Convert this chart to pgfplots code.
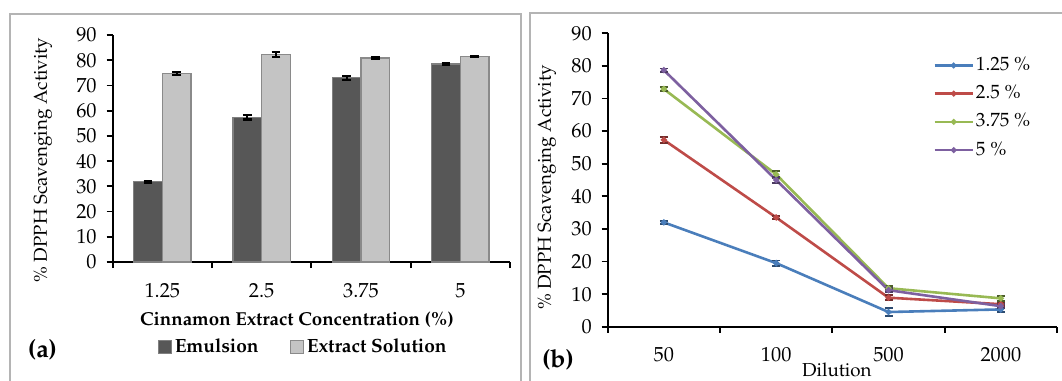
\documentclass[border=0pt]{standalone}
\usepackage[T1]{fontenc}
\usepackage{mathpazo}
\usepackage{pgfplots}
\pgfplotsset{compat=1.18}
\definecolor{emul}{HTML}{575757}
\definecolor{emuledge}{HTML}{808080}
\definecolor{extr}{HTML}{C4C4C4}
\definecolor{extredge}{HTML}{8A8A8A}
\definecolor{cblue}{HTML}{4A7EBB}
\definecolor{cred}{HTML}{BE4B48}
\definecolor{cgreen}{HTML}{98B954}
\definecolor{cpurple}{HTML}{7D60A0}
\definecolor{framec}{HTML}{B4B4B4}
\begin{document}
\begin{tikzpicture}
\useasboundingbox (0,0) rectangle (531bp,190.5bp);
\draw[framec, line width=0.7bp] (5bp,0) -- (5bp,183.5bp) -- (260.5bp,183.5bp) -- (260.5bp,0);
\draw[framec, line width=0.7bp] (265bp,0) -- (265bp,184bp) -- (531bp,184bp);
\pgfplotsset{
  every tick label/.append style={font=\fontsize{10.2}{11}\selectfont},
  every axis label/.append style={font=\fontsize{9.4}{10}\selectfont},
}
% ---------- (a) ----------
\begin{axis}[
  at={(56.35bp,59.5bp)}, anchor=south west,
  scale only axis, width=198.65bp, height=113.5bp,
  xmin=-0.5, xmax=3.5, ymin=0, ymax=90,
  axis lines*=left,
  axis line style={black, line width=0.9bp},
  ytick={0,10,...,90},
  xtick={0,1,2,3}, xticklabels={1.25,2.5,3.75,5},
  minor xtick={-0.5,0.5,1.5,2.5,3.5},
  major x tick style={draw=none},
  tick align=outside,
  major tick length=3bp, minor tick length=3bp,
  tick style={black, line width=0.9bp},
  xticklabel style={yshift=-4bp},
  yticklabel style={xshift=-1.5bp},
  ybar=0pt, bar width=14.35bp,
  xlabel={\bfseries Cinnamon Extract Concentration (\%)},
  ylabel={\% DPPH Scavenging Activity},
  xlabel style={at={(axis description cs:0.464,-0.2555)}, anchor=center},
  ylabel style={at={(axis description cs:-0.1754,0.449)}, anchor=center},
  legend columns=2,
  legend cell align=left,
  legend style={at={(axis description cs:0.849,-0.374)}, anchor=east, draw=none, fill=none,
    font=\fontsize{9.6}{10}\selectfont\bfseries,
    nodes={inner xsep=1.5bp},
    /tikz/column 2/.style={column sep=14bp},
    inner sep=0pt},
  legend image code/.code={\draw[#1] (0bp,-3.2bp) rectangle (6.5bp,3.2bp);},
  error bars/error bar style={black, line width=1.1bp},
  error bars/error mark options={rotate=90, black, mark size=2.2bp, line width=1.1bp},
  clip=false,
]
\addplot[fill=emul, draw=emuledge, line width=0.6bp,
  error bars/.cd, y dir=both, y explicit]
  coordinates {(0,31.8) +- (0,0.3) (1,57.4) +- (0,0.9) (2,73.0) +- (0,0.9) (3,78.5) +- (0,0.5)};
\addplot[fill=extr, draw=extredge, line width=0.6bp,
  error bars/.cd, y dir=both, y explicit]
  coordinates {(0,74.7) +- (0,0.5) (1,82.3) +- (0,0.9) (2,80.9) +- (0,0.5) (3,81.4) +- (0,0.2)};
\legend{Emulsion,Extract Solution}
\node[font=\fontsize{12.5}{13}\selectfont\bfseries, anchor=center] at (axis description cs:-0.1767,-0.3877) {(a)};
\end{axis}
% ---------- (b) ----------
\begin{axis}[
  at={(303.85bp,27.15bp)}, anchor=south west,
  scale only axis, width=224.65bp, height=146.7bp,
  xmin=-0.5, xmax=3.5, ymin=0, ymax=90,
  axis lines*=left,
  axis line style={black, line width=0.9bp},
  ytick={0,10,...,90},
  xtick={0,1,2,3}, xticklabels={50,100,500,2000},
  minor xtick={-0.5,0.5,1.5,2.5,3.5},
  major x tick style={draw=none},
  tick align=outside,
  major tick length=3bp, minor tick length=3bp,
  tick style={black, line width=0.9bp},
  xticklabel style={yshift=-4bp},
  yticklabel style={xshift=-1.5bp},
  xlabel={Dilution},
  ylabel={\% DPPH Scavenging Activity},
  xlabel style={at={(axis description cs:0.510,-0.1476)}, anchor=center},
  ylabel style={at={(axis description cs:-0.135,0.474)}, anchor=center},
  legend cell align=left,
  legend style={at={(axis description cs:0.724,0.919)}, anchor=north west, draw=none, fill=none,
    font=\fontsize{9.6}{10}\selectfont, inner sep=0pt,
    nodes={inner xsep=1bp, inner ysep=0pt, text height=6.5bp, text depth=1.5bp},
    row sep=6.1bp},
  legend image code/.code={\draw[#1, mark=none] (0bp,0bp) -- (19bp,0bp); \fill[#1] (9.5bp,0bp) circle (0.7bp);},
  clip=false,
]
\addplot[cblue, line width=1.3bp, mark=*, mark size=0.8bp,
  error bars/.cd, y dir=both, y explicit, error bar style={cblue!60!black, line width=0.9bp}, error mark options={rotate=90, mark size=2bp, line width=0.9bp, cblue!60!black}]
  coordinates {(0,32.0) +- (0,0.4) (1,19.5) +- (0,0.8) (2,4.5) +- (0,1.2) (3,5.3) +- (0,0.8)};
\addplot[cred, line width=1.3bp, mark=*, mark size=0.8bp,
  error bars/.cd, y dir=both, y explicit, error bar style={cred!60!black, line width=0.9bp}, error mark options={rotate=90, mark size=2bp, line width=0.9bp, cred!60!black}]
  coordinates {(0,57.3) +- (0,1.0) (1,33.5) +- (0,0.4) (2,8.9) +- (0,0.8) (3,6.9) +- (0,0.6)};
\addplot[cgreen, line width=1.3bp, mark=*, mark size=0.8bp,
  error bars/.cd, y dir=both, y explicit, error bar style={cgreen!50!black, line width=0.9bp}, error mark options={rotate=90, mark size=2bp, line width=0.9bp, cgreen!50!black}]
  coordinates {(0,72.9) +- (0,0.7) (1,46.7) +- (0,1.0) (2,11.8) +- (0,0.6) (3,8.7) +- (0,0.8)};
\addplot[cpurple, line width=1.3bp, mark=*, mark size=0.8bp,
  error bars/.cd, y dir=both, y explicit, error bar style={cpurple!60!black, line width=0.9bp}, error mark options={rotate=90, mark size=2bp, line width=0.9bp, cpurple!60!black}]
  coordinates {(0,78.7) +- (0,0.5) (1,45.0) +- (0,0.8) (2,11.2) +- (0,0.6) (3,6.3) +- (0,0.6)};
\legend{1.25 \%,2.5 \%,3.75 \%,5 \%}
\node[font=\fontsize{12.5}{13}\selectfont\bfseries, anchor=center] at (axis description cs:-0.1106,-0.1135) {(b)};
\end{axis}
\end{tikzpicture}
\end{document}
